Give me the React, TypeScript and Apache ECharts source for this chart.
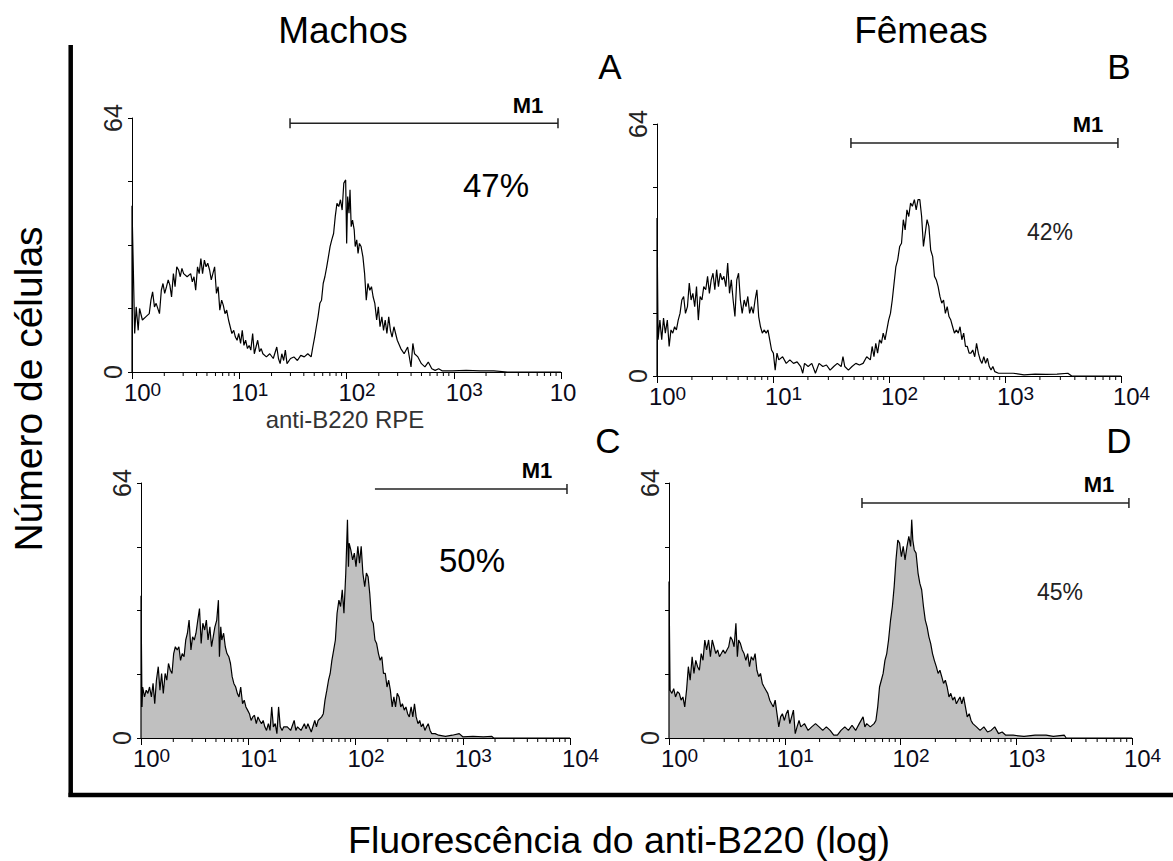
import React, { useEffect, useRef } from 'react';
import * as echarts from 'echarts';

const FONT = '"Liberation Sans", Arial, Helvetica, sans-serif';

// x = channel (256 channels over 4 log decades, 64 per decade), y = number of cells
const histA: [number, number][] = [
  [0, 0], [0, 41.9], [1.6, 9.7], [2.5, 16.4], [3.7, 10.5], [4.5, 16.0], [6.2, 13.1], [8.2, 13.9], [10.3, 14.7], [11.3, 18.1],
  [12.3, 20.2], [13.4, 16.4], [14.4, 17.3], [16.4, 14.7], [17.5, 20.6], [18.5, 22.3], [19.5, 19.8], [20.6, 21.5], [21.6, 23.2],
  [22.6, 21.9], [23.6, 18.9], [24.7, 24.8], [25.7, 21.5], [26.7, 26.5], [27.8, 25.7], [28.8, 24.0], [29.8, 26.1], [30.8, 24.8],
  [32.9, 24.0], [35.0, 24.8], [36.0, 22.7], [37.0, 24.0], [38.0, 20.6], [39.1, 26.5], [40.1, 24.8], [41.1, 28.6], [42.1, 24.8],
  [43.2, 28.2], [44.2, 26.5], [45.2, 27.4], [46.3, 25.7], [47.3, 23.2], [49.3, 26.5], [50.4, 19.8], [51.4, 21.5], [52.4, 15.6],
  [53.5, 18.1], [54.5, 16.8], [55.5, 14.7], [56.5, 15.6], [57.6, 13.1], [58.6, 11.4], [59.6, 9.7], [60.7, 10.5], [61.7, 8.8],
  [62.7, 8.0], [63.7, 9.7], [64.8, 7.2], [65.8, 10.5], [66.8, 6.7], [67.8, 8.0], [68.9, 5.9], [69.9, 6.7], [70.9, 5.5], [72.0, 9.7],
  [73.0, 4.6], [74.0, 6.3], [75.0, 8.0], [76.1, 5.1], [77.1, 5.9], [78.1, 4.6], [80.2, 3.8], [82.2, 4.6], [84.3, 3.4], [86.4, 6.3],
  [87.4, 3.4], [88.4, 2.1], [89.4, 4.6], [90.5, 2.9], [91.5, 5.5], [92.5, 2.1], [94.6, 3.4], [96.6, 3.8], [98.7, 2.9], [100.7, 4.2],
  [102.8, 3.8], [104.9, 4.6], [106.9, 3.8], [107.9, 6.3], [109.0, 8.8], [110.0, 11.4], [111.0, 13.9], [112.1, 17.3], [113.1, 18.1],
  [114.1, 22.3], [115.1, 24.0], [116.2, 26.5], [117.2, 29.0], [118.2, 31.6], [119.2, 33.3], [120.3, 34.9], [121.3, 39.2], [122.3, 42.5],
  [123.4, 41.7], [124.4, 43.4], [125.4, 40.8], [126.4, 47.6], [127.5, 48.4], [128.1, 32.4], [128.7, 44.2], [129.5, 40.0], [130.1, 45.9],
  [130.8, 36.6], [131.6, 38.3], [132.6, 35.8], [133.2, 31.6], [134.1, 33.3], [134.9, 29.9], [135.7, 32.4], [136.7, 31.6], [137.8, 29.0],
  [138.8, 24.8], [139.8, 18.1], [140.8, 22.3], [141.9, 20.6], [142.9, 21.5], [143.9, 18.9], [144.9, 17.3], [146.0, 13.1], [147.0, 16.4],
  [148.0, 11.4], [149.1, 13.9], [150.1, 10.5], [151.1, 13.1], [152.1, 9.7], [153.2, 13.9], [154.2, 10.5], [155.2, 8.8], [156.3, 11.4],
  [158.3, 8.0], [160.4, 5.9], [162.4, 4.6], [164.5, 6.3], [166.5, 1.3], [167.6, 7.2], [168.6, 4.6], [170.6, 3.8], [172.7, 2.1],
  [174.8, 1.3], [176.8, 2.5], [178.9, 0.8], [180.9, 0.4], [183.0, 0.8], [185.0, 0.3], [191.2, 0.3], [199.4, 0.4], [207.7, 0.3],
  [215.9, 0.3], [224.1, 0], [256, 0],
];

const histB: [number, number][] = [
  [0, 0], [0, 40.1], [0.6, 9.2], [1.6, 14.2], [2.6, 9.2], [3.6, 14.7], [4.6, 10.9], [5.7, 14.2], [6.7, 7.5], [7.7, 11.7], [8.7, 10.9],
  [9.7, 12.5], [10.7, 11.7], [11.7, 14.2], [12.7, 15.9], [13.7, 19.3], [14.7, 20.2], [15.7, 15.9], [16.8, 17.6], [17.8, 23.6],
  [18.8, 19.3], [19.8, 21.0], [20.8, 17.6], [21.8, 22.7], [22.8, 14.2], [23.8, 20.2], [24.8, 19.3], [25.8, 22.7], [26.9, 21.9],
  [27.9, 25.3], [28.9, 21.0], [29.9, 24.4], [30.9, 26.1], [31.9, 21.9], [32.9, 27.0], [33.9, 22.7], [34.9, 26.1], [35.9, 24.4],
  [36.9, 25.3], [38.0, 22.7], [39.0, 28.7], [40.0, 21.0], [41.0, 24.4], [42.0, 19.3], [43.0, 15.1], [44.0, 24.4], [45.0, 26.1],
  [46.0, 19.3], [47.0, 15.9], [48.1, 19.3], [49.1, 17.6], [50.1, 20.2], [51.1, 15.9], [52.1, 17.6], [53.1, 15.9], [54.1, 19.3],
  [55.1, 21.9], [56.1, 15.1], [57.1, 12.5], [58.1, 10.9], [59.2, 11.7], [60.2, 10.9], [61.2, 11.7], [62.2, 9.2], [63.2, 6.6],
  [64.2, 5.8], [65.2, 1.5], [66.2, 5.8], [67.2, 4.1], [69.3, 4.9], [71.3, 3.2], [73.3, 4.1], [75.3, 3.2], [77.3, 3.6], [79.3, 2.4],
  [80.4, 0.7], [81.4, 3.2], [83.4, 2.4], [85.4, 3.2], [87.4, 0.7], [89.4, 3.2], [91.5, 2.4], [93.5, 2.8], [95.5, 1.5], [97.5, 2.4],
  [99.5, 3.2], [101.6, 2.4], [102.6, 4.9], [103.6, 2.4], [105.6, 1.5], [107.6, 2.4], [109.7, 3.2], [111.7, 2.8], [113.7, 3.2],
  [115.7, 4.9], [117.7, 4.1], [118.7, 7.5], [119.7, 4.9], [120.7, 8.3], [121.7, 5.8], [122.8, 9.2], [123.8, 8.3], [124.8, 10.9],
  [125.8, 9.2], [126.8, 11.7], [127.8, 14.2], [128.8, 15.9], [129.8, 19.3], [130.8, 23.6], [131.8, 27.8], [132.8, 29.5], [133.9, 32.9],
  [134.9, 33.7], [135.9, 39.7], [136.9, 37.1], [137.9, 42.2], [138.9, 40.5], [139.9, 43.9], [140.9, 43.1], [142.0, 44.8], [143.0, 42.2],
  [144.0, 44.8], [145.0, 44.8], [146.0, 40.5], [147.0, 32.9], [148.0, 36.3], [149.0, 39.7], [150.0, 38.0], [151.0, 32.0], [152.1, 30.3],
  [153.1, 25.3], [154.1, 24.4], [155.1, 22.7], [156.1, 20.2], [157.1, 18.5], [158.1, 19.3], [159.1, 15.9], [160.1, 17.6], [161.1, 15.1],
  [162.1, 14.2], [163.1, 12.5], [164.1, 10.9], [165.2, 11.7], [166.2, 10.9], [167.2, 12.5], [168.2, 9.2], [169.2, 10.9], [170.2, 7.5],
  [171.2, 7.5], [172.2, 5.8], [173.2, 5.8], [174.2, 6.6], [175.3, 4.9], [176.3, 8.3], [177.3, 5.8], [178.3, 4.1], [179.3, 3.2],
  [180.3, 4.9], [181.3, 3.2], [182.3, 4.5], [183.3, 2.4], [184.3, 1.5], [185.3, 2.4], [186.4, 1.1], [188.4, 0.7], [190.4, 0.7],
  [196.5, 0.7], [202.5, 0.3], [208.6, 0.5], [214.6, 0.4], [220.7, 0.5], [226.7, 0.7], [228.8, 0], [256, 0],
];

const histC: [number, number][] = [
  [0, 0], [0, 35.7], [0.6, 7.8], [1.0, 12.8], [2.1, 10.3], [3.1, 12.0], [4.1, 11.2], [5.1, 12.8], [6.2, 10.3], [7.2, 13.7], [8.2, 8.6],
  [9.2, 14.5], [10.3, 17.9], [11.3, 12.0], [12.3, 16.2], [13.3, 11.2], [14.4, 16.2], [15.4, 14.5], [16.4, 18.7], [17.5, 17.0],
  [18.5, 16.2], [19.5, 21.2], [20.5, 22.9], [21.6, 22.1], [22.6, 22.9], [23.6, 19.5], [24.6, 21.2], [25.7, 20.4], [26.7, 24.6],
  [27.7, 26.3], [28.7, 29.6], [29.8, 22.1], [30.8, 25.4], [31.8, 24.6], [32.8, 26.3], [33.9, 29.6], [34.9, 32.5], [35.9, 23.7],
  [36.9, 28.8], [38.0, 27.1], [39.0, 29.6], [40.0, 24.6], [41.1, 27.9], [42.1, 22.9], [43.1, 25.4], [44.1, 27.9], [45.2, 29.6],
  [46.2, 34.6], [46.8, 20.4], [47.6, 27.9], [48.2, 24.6], [49.3, 26.3], [50.3, 22.9], [51.3, 21.2], [52.4, 20.4], [53.4, 18.7],
  [54.4, 15.4], [55.4, 13.7], [56.5, 12.8], [57.5, 11.2], [58.5, 10.3], [59.5, 12.8], [60.6, 8.6], [61.6, 9.5], [62.6, 7.8],
  [63.6, 7.0], [64.7, 6.1], [65.7, 4.4], [66.7, 5.3], [67.7, 5.7], [68.8, 3.6], [69.8, 5.3], [70.8, 4.4], [71.9, 3.6], [72.9, 4.4],
  [73.9, 2.8], [74.9, 1.9], [76.0, 3.6], [77.0, 1.9], [78.0, 7.8], [79.0, 2.8], [80.1, 3.6], [81.1, 1.1], [82.1, 7.8], [83.1, 2.8],
  [84.2, 1.9], [85.2, 2.8], [87.3, 2.8], [89.3, 1.9], [91.4, 4.4], [92.4, 1.9], [93.4, 2.8], [95.5, 1.9], [97.5, 3.6], [98.5, 2.3],
  [99.6, 3.6], [101.6, 1.5], [103.7, 4.4], [104.7, 2.8], [105.7, 4.4], [107.8, 5.3], [108.8, 6.1], [109.8, 9.5], [110.9, 12.0],
  [111.9, 14.5], [112.9, 16.2], [113.9, 19.5], [115.0, 22.1], [116.0, 24.6], [117.0, 31.3], [118.1, 34.6], [119.1, 33.0], [120.1, 37.2],
  [121.1, 31.3], [122.2, 41.4], [123.2, 54.8], [123.8, 43.0], [124.2, 48.9], [125.2, 47.2], [126.3, 44.7], [127.3, 46.4], [128.3, 43.0],
  [129.4, 48.1], [130.4, 43.9], [131.4, 48.1], [132.4, 41.4], [133.5, 38.0], [134.5, 41.4], [135.5, 40.5], [136.5, 36.3], [137.6, 29.6],
  [138.6, 28.8], [139.6, 24.6], [140.6, 23.7], [141.7, 21.2], [142.7, 19.5], [143.7, 20.4], [144.7, 16.2], [145.8, 16.2], [146.8, 12.8],
  [147.8, 14.5], [148.8, 12.0], [149.9, 7.8], [150.9, 10.3], [151.9, 7.8], [152.9, 11.2], [154.0, 10.3], [155.0, 7.8], [156.0, 8.6],
  [157.1, 7.0], [158.1, 7.8], [159.1, 6.1], [160.1, 5.3], [161.2, 7.8], [162.2, 5.3], [163.2, 8.6], [164.2, 5.3], [165.3, 3.6],
  [166.3, 4.4], [167.3, 2.8], [168.3, 3.6], [169.4, 1.9], [170.4, 2.8], [171.4, 3.6], [172.5, 1.9], [173.5, 1.1], [175.5, 1.1],
  [177.6, 0.7], [181.7, 0.4], [185.8, 0.7], [189.9, 1.1], [192.0, 0.3], [198.1, 0.4], [204.3, 0.3], [209.4, 0.4], [210.4, 0], [256, 0],
];

const histD: [number, number][] = [
  [0, 0], [0, 39.3], [0.6, 12.0], [1.6, 11.2], [2.6, 12.4], [3.6, 10.3], [4.7, 11.6], [5.7, 11.2], [6.7, 9.5], [7.7, 10.3], [8.7, 7.8],
  [9.7, 12.0], [10.7, 17.9], [11.7, 14.5], [12.8, 20.4], [13.8, 16.2], [14.8, 19.5], [15.8, 17.9], [16.8, 17.0], [17.8, 21.2],
  [18.8, 19.5], [19.8, 24.6], [20.8, 22.1], [21.9, 24.6], [22.9, 20.4], [23.9, 24.6], [24.9, 22.9], [25.9, 21.2], [26.9, 22.1],
  [27.9, 20.4], [28.9, 21.2], [30.0, 22.1], [31.0, 21.2], [32.0, 22.1], [33.0, 22.9], [34.0, 25.4], [35.0, 24.6], [36.0, 22.9],
  [37.0, 28.8], [37.8, 20.4], [38.5, 24.6], [39.5, 23.7], [40.5, 22.1], [41.5, 21.2], [42.5, 19.5], [43.5, 21.2], [44.5, 17.9],
  [45.5, 20.4], [46.6, 19.5], [47.6, 21.2], [48.6, 17.0], [49.6, 15.4], [50.6, 16.2], [51.6, 13.7], [52.6, 12.8], [53.6, 12.0],
  [54.6, 11.2], [55.7, 9.5], [56.7, 8.6], [57.7, 7.8], [58.7, 9.5], [59.7, 6.1], [60.7, 2.8], [61.7, 5.3], [62.7, 6.1], [63.8, 4.4],
  [64.8, 6.1], [65.8, 7.0], [66.8, 3.6], [67.8, 5.3], [68.8, 7.0], [69.8, 1.1], [70.8, 2.8], [71.9, 4.4], [72.9, 2.8], [74.9, 3.6],
  [76.9, 1.9], [78.9, 2.8], [81.0, 3.6], [83.0, 2.8], [85.0, 1.9], [87.0, 2.8], [89.1, 1.9], [91.1, 0.7], [93.1, 0.7], [95.1, 1.9],
  [97.2, 2.8], [99.2, 1.9], [101.2, 3.2], [103.2, 1.9], [105.2, 3.6], [107.3, 5.3], [108.3, 2.8], [109.3, 3.6], [111.3, 2.8],
  [113.4, 3.6], [114.4, 4.4], [115.4, 7.8], [116.4, 12.8], [117.4, 14.5], [118.4, 16.2], [119.4, 19.5], [120.4, 21.2], [121.4, 24.6],
  [122.5, 29.6], [123.5, 33.0], [124.5, 38.0], [125.5, 44.7], [126.5, 49.7], [127.5, 48.9], [128.5, 45.5], [129.5, 48.1], [130.5, 44.7],
  [131.6, 48.1], [132.6, 50.6], [133.6, 48.1], [134.2, 54.8], [134.8, 49.7], [135.6, 47.2], [136.6, 46.4], [137.7, 41.4], [138.7, 38.8],
  [139.7, 37.2], [140.7, 33.0], [141.7, 29.6], [142.7, 27.9], [143.7, 25.4], [144.7, 23.7], [145.7, 21.2], [146.7, 19.5], [147.8, 17.9],
  [148.8, 16.2], [149.8, 17.0], [150.8, 15.4], [151.8, 13.7], [152.8, 14.5], [153.8, 12.8], [154.8, 10.3], [155.8, 11.2], [156.9, 9.5],
  [157.9, 10.3], [158.9, 8.6], [159.9, 9.5], [160.9, 10.3], [161.9, 8.6], [162.9, 10.3], [163.9, 7.8], [164.9, 5.3], [166.0, 6.1],
  [167.0, 4.4], [168.0, 3.6], [170.0, 2.8], [172.0, 1.9], [174.1, 2.8], [176.1, 1.5], [178.1, 1.9], [180.1, 2.8], [182.2, 1.1],
  [184.2, 1.5], [186.2, 0.7], [190.3, 0.7], [196.3, 0.4], [202.4, 0.7], [208.5, 0.7], [212.5, 0.4], [218.6, 0.7], [219.6, 0], [256, 0],
];

// axis definition
const decadeExponents = [0, 1, 2, 3, 4];
const minorMultipliers = [2, 3, 4, 5, 6, 7, 8, 9];
const channelsPerDecade = 64;
const yMax = 64;
const yLabelValues = [0, 64];

// M1 gates: [start channel, end channel, count level, has left end tick]
const gateA = [94.3, 254.2, 62.7, 1];
const gateB = [107.0, 254.3, 59.2, 1];
const gateC = [139.6, 254.2, 62.5, 0];
const gateD = [106.7, 254.3, 59.0, 1];

const percentLabels = ['47%', '42%', '50%', '45%'];
const panelLetters = ['A', 'B', 'C', 'D'];
const groupTitles = ['Machos', 'Fêmeas'];

export default function App() {
  const ref = useRef<HTMLDivElement>(null);

  useEffect(() => {
    document.body.style.margin = '0';
    if (!ref.current) return;
    const chart = echarts.init(ref.current, undefined, { renderer: 'svg' });

    const hists = [histA, histB, histC, histD];
    const gates = [gateA, gateB, gateC, gateD];
    const grids = [
      { left: 132, top: 118, width: 429, height: 254 },
      { left: 657, top: 124, width: 464, height: 252 },
      { left: 141, top: 483, width: 429, height: 255 },
      { left: 669, top: 483, width: 463, height: 255 },
    ];
    const filled = [false, false, true, true];
    const truncatedLast = [true, false, false, false];

    const minorTicks: number[][] = [];
    decadeExponents.slice(0, 4).forEach((e) => {
      minorMultipliers.forEach((m) => {
        minorTicks.push([channelsPerDecade * (e + Math.log10(m)), 0]);
      });
    });

    const xAxes = grids.map((_, i) => ({
      type: 'value',
      gridIndex: i,
      min: 0,
      max: channelsPerDecade * 4,
      interval: channelsPerDecade,
      splitLine: { show: false },
      axisLine: { lineStyle: { color: '#000', width: 1 } },
      axisTick: { length: 7, lineStyle: { color: '#000', width: 1 } },
      axisLabel: {
        margin: 8,
        formatter: (v: number) => {
          const n = Math.round(v / channelsPerDecade);
          if (truncatedLast[i] && n === 4) return '{c|10}';
          return `{b|10}{s|${decadeExponents[n]}}`;
        },
        rich: {
          b: { fontSize: 24, fontFamily: FONT, color: '#0a0a1a', lineHeight: 25, padding: [0, 0, 0, 21] },
          c: { fontSize: 24, fontFamily: FONT, color: '#0a0a1a', lineHeight: 25, padding: [0, 0, 0, 4] },
          s: { fontSize: 19, fontFamily: FONT, color: '#0a0a1a', lineHeight: 19, verticalAlign: 'top' },
        },
      },
    }));

    const yAxes = grids.map((_, i) => ({
      type: 'value',
      gridIndex: i,
      min: 0,
      max: yMax,
      interval: 16,
      splitLine: { show: false },
      axisLine: { lineStyle: { color: '#000', width: 1 } },
      axisTick: { length: 4, lineStyle: { color: '#000', width: 1 } },
      axisLabel: {
        rotate: 90,
        margin: 7,
        fontSize: 25,
        fontFamily: FONT,
        color: '#222',
        formatter: (v: number) => (yLabelValues.includes(v) ? String(v) : ''),
      },
    }));

    const series: any[] = [];
    hists.forEach((h, i) => {
      series.push({
        type: 'line',
        xAxisIndex: i,
        yAxisIndex: i,
        data: h,
        showSymbol: false,
        symbol: 'none',
        lineStyle: { color: '#000', width: 1.2 },
        areaStyle: filled[i] ? { color: '#c0c0c0', opacity: 1 } : undefined,
        z: 3,
      });
      series.push({
        type: 'custom',
        xAxisIndex: i,
        yAxisIndex: i,
        data: minorTicks,
        clip: false,
        silent: true,
        z: 4,
        renderItem: (_p: any, api: any) => {
          const pt = api.coord([api.value(0), 0]);
          return {
            type: 'line',
            shape: { x1: pt[0], y1: pt[1], x2: pt[0], y2: pt[1] + 4 },
            style: { stroke: '#000', lineWidth: 1 },
          };
        },
      });
      series.push({
        type: 'custom',
        xAxisIndex: i,
        yAxisIndex: i,
        data: [gates[i]],
        encode: { x: [0, 1], y: 2 },
        clip: false,
        silent: true,
        z: 5,
        renderItem: (_p: any, api: any) => {
          const s = api.coord([api.value(0), api.value(2)]);
          const e = api.coord([api.value(1), api.value(2)]);
          const st = { stroke: '#222', lineWidth: 1.5 };
          const children: any[] = [
            { type: 'line', shape: { x1: s[0], y1: s[1], x2: e[0], y2: e[1] }, style: st },
            { type: 'line', shape: { x1: e[0], y1: e[1] - 5, x2: e[0], y2: e[1] + 5 }, style: st },
          ];
          if (api.value(3)) {
            children.push({ type: 'line', shape: { x1: s[0], y1: s[1] - 5, x2: s[0], y2: s[1] + 5 }, style: st });
          }
          children.push({
            type: 'text',
            style: {
              text: 'M1',
              x: e[0] - 30,
              y: e[1] - 18,
              fill: '#000',
              fontSize: 22,
              fontWeight: 'bold',
              fontFamily: FONT,
              align: 'center',
              verticalAlign: 'middle',
              textAlign: 'center',
              textVerticalAlign: 'middle',
            },
          });
          return { type: 'group', children };
        },
      });
    });

    const txt = (text: string, x: number, y: number, size: number, color = '#000', rotation = 0) => ({
      type: 'text',
      x,
      y,
      rotation,
      silent: true,
      style: {
        text,
        fontSize: size,
        fontFamily: FONT,
        fill: color,
        align: 'center',
        verticalAlign: 'middle',
        textAlign: 'center',
        textVerticalAlign: 'middle',
      },
    });

    const graphic: any[] = [
      { type: 'line', silent: true, shape: { x1: 70.7, y1: 45, x2: 70.7, y2: 797 }, style: { stroke: '#000', lineWidth: 4.5 } },
      { type: 'line', silent: true, shape: { x1: 68.5, y1: 795, x2: 1173, y2: 795 }, style: { stroke: '#000', lineWidth: 4.5 } },
      txt(groupTitles[0], 343, 30, 37),
      txt(groupTitles[1], 921, 30, 37),
      txt(panelLetters[0], 610, 66, 35),
      txt(panelLetters[1], 1119, 66, 35),
      txt(panelLetters[2], 608, 440, 35),
      txt(panelLetters[3], 1119, 440, 35),
      txt(percentLabels[0], 496, 185, 33),
      txt(percentLabels[1], 1050, 232, 23, '#222'),
      txt(percentLabels[2], 472, 560, 33),
      txt(percentLabels[3], 1060, 592, 23, '#222'),
      txt('anti-B220 RPE', 345, 419, 24, '#333'),
      txt('Número de células', 28, 389, 39, '#000', Math.PI / 2),
      txt('Fluorescência do anti-B220 (log)', 619, 840, 37.5),
    ];

    chart.setOption({
      animation: false,
      backgroundColor: '#fff',
      grid: grids.map((g) => ({ ...g, containLabel: false })),
      xAxis: xAxes,
      yAxis: yAxes,
      series,
      graphic,
    });

    return () => chart.dispose();
  }, []);

  return <div ref={ref} style={{ width: 1173, height: 861 }} />;
}
